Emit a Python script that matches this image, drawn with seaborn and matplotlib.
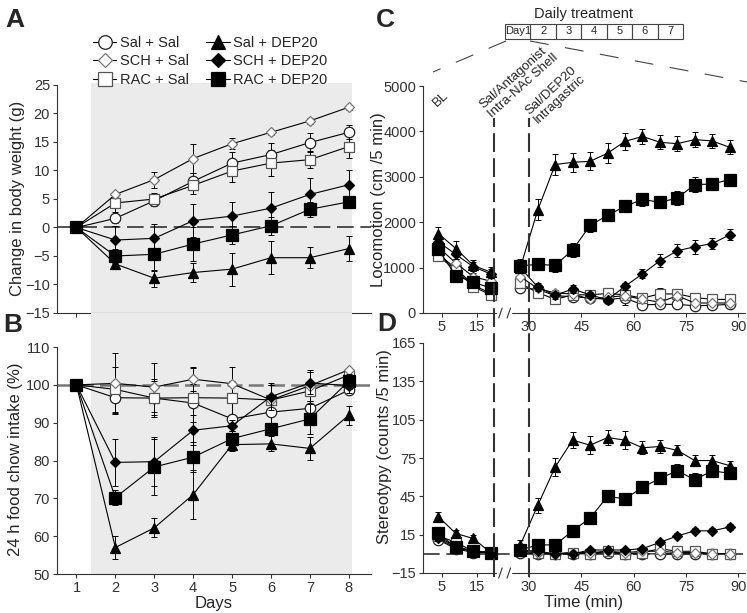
import matplotlib
matplotlib.use("Agg")
import matplotlib.pyplot as plt
import matplotlib.transforms as mtransforms
from matplotlib.lines import Line2D
from matplotlib.patches import Rectangle
import seaborn as sns

# groups / legend labels
groups = ["Sal + Sal", "SCH + Sal", "RAC + Sal", "Sal + DEP20", "SCH + DEP20", "RAC + DEP20"]

# A: change in body weight (g), days 1-8
days = [1, 2, 3, 4, 5, 6, 7, 8]
bw_mean = {
    "Sal + Sal":   [0, 1.6, 4.7, 8.1, 11.3, 12.8, 14.9, 16.7],
    "SCH + Sal":   [0, 5.8, 8.4, 12.1, 14.7, 16.7, 18.7, 21.1],
    "RAC + Sal":   [0, 4.3, 5.0, 7.4, 9.9, 11.3, 11.9, 14.2],
    "Sal + DEP20": [0, -6.4, -8.9, -7.9, -7.3, -5.3, -5.3, -3.7],
    "SCH + DEP20": [0, -2.2, -1.9, 1.2, 2.0, 3.4, 5.8, 7.5],
    "RAC + DEP20": [0, -5.0, -4.7, -2.9, -1.3, 0.3, 3.2, 4.5],
}
bw_sem = {
    "Sal + Sal":   [0, 0.8, 1.0, 1.5, 2.0, 2.0, 1.6, 1.2],
    "SCH + Sal":   [0, 0.5, 1.4, 2.6, 1.0, 0.4, 0.5, 0.4],
    "RAC + Sal":   [0, 1.5, 1.0, 1.5, 2.0, 2.3, 1.5, 2.0],
    "Sal + DEP20": [0, 0.6, 1.5, 1.6, 2.9, 2.9, 1.8, 2.2],
    "SCH + DEP20": [0, 2.5, 2.6, 2.9, 2.5, 2.8, 2.8, 2.5],
    "RAC + DEP20": [0, 1.3, 2.9, 2.9, 1.6, 1.6, 1.3, 1.0],
}

# B: 24 h food chow intake (%)
food_mean = {
    "Sal + Sal":   [100, 96.6, 96.5, 95.2, 91.0, 92.8, 93.8, 98.6],
    "SCH + Sal":   [100, 100.4, 99.4, 101.5, 100.3, 96.0, 99.8, 104.0],
    "RAC + Sal":   [100, 98.8, 96.5, 96.6, 96.5, 96.0, 98.4, 102.6],
    "Sal + DEP20": [100, 57.0, 62.2, 71.0, 84.2, 84.4, 83.2, 92.0],
    "SCH + DEP20": [100, 79.5, 79.7, 88.0, 89.2, 96.9, 100.5, 99.8],
    "RAC + DEP20": [100, 70.2, 78.3, 80.9, 85.8, 88.4, 91.0, 101.0],
}
food_sem = {
    "Sal + Sal":   [0, 4.0, 4.5, 5.0, 1.0, 3.0, 2.0, 1.0],
    "SCH + Sal":   [0, 8.0, 6.5, 3.0, 4.5, 4.0, 4.0, 0.5],
    "RAC + Sal":   [0, 6.0, 5.0, 8.0, 4.5, 4.0, 5.0, 1.0],
    "Sal + DEP20": [0, 3.0, 2.5, 6.5, 1.8, 2.0, 3.0, 2.5],
    "SCH + DEP20": [0, 6.3, 6.5, 4.0, 1.5, 3.5, 3.0, 2.0],
    "RAC + DEP20": [0, 2.0, 7.5, 4.0, 2.0, 1.5, 4.0, 2.0],
}

# C/D: time course (min); baseline bins and post-treatment bins
time_bl = [4, 9, 14, 19]
time_tx = [27.5, 32.5, 37.5, 42.5, 47.5, 52.5, 57.5, 62.5, 67.5, 72.5, 77.5, 82.5, 87.5]
time_ticks = [5, 15, 30, 45, 60, 75, 90]

loco_bl = {
    "Sal + Sal":   [1300, 980, 620, 430],
    "SCH + Sal":   [1450, 1100, 800, 700],
    "RAC + Sal":   [1250, 950, 580, 400],
    "Sal + DEP20": [1750, 1420, 1050, 900],
    "SCH + DEP20": [1570, 1290, 1020, 860],
    "RAC + DEP20": [1400, 820, 680, 550],
}
loco_tx = {
    "Sal + Sal":   [560, 520, 380, 360, 330, 300, 330, 180, 190, 190, 160, 170, 190],
    "SCH + Sal":   [800, 540, 440, 420, 300, 350, 380, 300, 240, 380, 220, 220, 220],
    "RAC + Sal":   [650, 450, 300, 400, 400, 430, 400, 330, 420, 420, 340, 300, 300],
    "Sal + DEP20": [1000, 2270, 3270, 3320, 3340, 3520, 3780, 3890, 3760, 3730, 3820, 3790, 3650],
    "SCH + DEP20": [1000, 570, 390, 530, 400, 290, 590, 860, 1150, 1370, 1460, 1530, 1720],
    "RAC + DEP20": [1040, 1070, 1050, 1390, 1930, 2150, 2350, 2500, 2440, 2530, 2830, 2840, 2940],
}
loco_bl_sem = {
    "Sal + Sal":   [100, 90, 80, 70],
    "SCH + Sal":   [110, 100, 90, 80],
    "RAC + Sal":   [100, 90, 80, 80],
    "Sal + DEP20": [150, 170, 120, 120],
    "SCH + DEP20": [120, 100, 100, 100],
    "RAC + DEP20": [120, 100, 100, 130],
}
loco_tx_sem = {
    "Sal + Sal":   [80, 70, 60, 60, 60, 60, 70, 50, 50, 50, 50, 50, 50],
    "SCH + Sal":   [100, 80, 70, 70, 60, 70, 200, 80, 70, 80, 60, 60, 60],
    "RAC + Sal":   [90, 70, 60, 70, 70, 80, 80, 70, 120, 100, 80, 70, 70],
    "Sal + DEP20": [100, 230, 230, 210, 200, 220, 190, 170, 150, 170, 170, 150, 150],
    "SCH + DEP20": [100, 80, 80, 80, 70, 70, 80, 100, 140, 140, 150, 130, 120],
    "RAC + DEP20": [150, 130, 150, 150, 140, 120, 120, 140, 110, 160, 160, 140, 80],
}

stereo_bl = {
    "Sal + Sal":   [11, 4, 1, 1],
    "SCH + Sal":   [13, 6, 2, 1],
    "RAC + Sal":   [14, 9, 2, 1],
    "Sal + DEP20": [29, 16, 12, 1],
    "SCH + DEP20": [12, 5, 2, 1],
    "RAC + DEP20": [16, 5, 2, 1],
}
stereo_tx = {
    "Sal + Sal":   [1, 0, 0, 0, 0, 1, 0, 0, 0, 0, 0, 0, 0],
    "SCH + Sal":   [2, 1, 0, 1, 1, 2, 1, 2, 2, 1, 1, 0, 0],
    "RAC + Sal":   [2, 1, 0, 1, 0, 2, 0, 1, 4, 2, 2, 0, 0],
    "Sal + DEP20": [7, 38, 68, 89, 85, 91, 89, 83, 84, 81, 73, 73, 69],
    "SCH + DEP20": [3, 2, 0, 0, 3, 3, 3, 4, 9, 14, 18, 18, 21],
    "RAC + DEP20": [3, 7, 7, 18, 28, 45, 43, 52, 59, 65, 58, 65, 63],
}
stereo_bl_sem = {
    "Sal + Sal":   [2, 1, 1, 1],
    "SCH + Sal":   [2, 1, 1, 1],
    "RAC + Sal":   [2, 2, 1, 1],
    "Sal + DEP20": [4, 3, 3, 2],
    "SCH + DEP20": [2, 1, 1, 1],
    "RAC + DEP20": [3, 2, 2, 1],
}
stereo_tx_sem = {
    "Sal + Sal":   [1, 1, 1, 1, 1, 1, 1, 1, 1, 1, 1, 1, 1],
    "SCH + Sal":   [1, 1, 1, 1, 1, 1, 1, 1, 1, 1, 1, 1, 1],
    "RAC + Sal":   [1, 1, 1, 1, 1, 1, 1, 1, 2, 1, 1, 1, 1],
    "Sal + DEP20": [4, 6, 7, 6, 7, 6, 7, 5, 5, 4, 4, 4, 4],
    "SCH + DEP20": [1, 1, 1, 1, 1, 1, 1, 1, 2, 2, 2, 2, 2],
    "RAC + DEP20": [2, 3, 3, 3, 3, 4, 3, 4, 4, 5, 5, 5, 3],
}

treatment_days = ["Day1", "2", "3", "4", "5", "6", "7"]

# marker styles per group
styles = {
    "Sal + Sal":   dict(marker="o", ms=7.5, fc="white", ec="#222222", z=3),
    "SCH + Sal":   dict(marker="D", ms=5.5, fc="white", ec="#777777", z=3.2),
    "RAC + Sal":   dict(marker="s", ms=7.5, fc="white", ec="#555555", z=3.1),
    "Sal + DEP20": dict(marker="^", ms=7.5, fc="black", ec="black", z=4),
    "SCH + DEP20": dict(marker="D", ms=5.5, fc="black", ec="black", z=4.1),
    "RAC + DEP20": dict(marker="s", ms=8.0, fc="black", ec="black", z=4.2),
}

sns.set_style("ticks")
plt.rcParams["font.family"] = ["Liberation Sans", "DejaVu Sans"]
plt.rcParams["axes.edgecolor"] = "#333333"
plt.rcParams["xtick.color"] = "#333333"
plt.rcParams["ytick.color"] = "#333333"
plt.rcParams["xtick.major.size"] = 3
plt.rcParams["ytick.major.size"] = 3
plt.rcParams["xtick.major.pad"] = 2
plt.rcParams["ytick.major.pad"] = 2

TICK_FS = 10.5
LAB_FS = 12
SHADE = "#ebebeb"

W, H = 747, 613
fig = plt.figure(figsize=(W / 100, H / 100), dpi=100)


def px_axes(left, top, right, bottom):
    return fig.add_axes([left / W, 1 - bottom / H, (right - left) / W, (bottom - top) / H])


def draw_group(ax, xs, ys, err, g):
    st = styles[g]
    sns.lineplot(x=xs, y=ys, ax=ax, color="black", lw=0.8, marker=st["marker"],
                 markersize=st["ms"], markerfacecolor=st["fc"], markeredgecolor=st["ec"],
                 markeredgewidth=0.9, zorder=st["z"], sort=False, errorbar=None)
    ax.errorbar(xs, ys, yerr=err, fmt="none", ecolor="black", elinewidth=0.7,
                capsize=2, capthick=0.7, zorder=st["z"] - 0.5)


def clean(ax):
    ax.spines[["top", "right"]].set_visible(False)
    ax.tick_params(labelsize=TICK_FS, direction="out")


# ---------- A: body weight ----------
axA = px_axes(57, 83, 371, 313)
axA.axvspan(1.38, 8.07, color=SHADE, lw=0, zorder=0)
axA.axhline(0, color="#333333", lw=1.2, dashes=(10, 4), zorder=1)
for g in groups:
    draw_group(axA, days, bw_mean[g], bw_sem[g], g)
axA.set_xlim(0.5, 8.57)
axA.set_ylim(-15, 25.35)
axA.set_yticks(range(-15, 30, 5))
axA.set_xticks(days)
axA.set_xticklabels([])
axA.spines["left"].set_bounds(-15, 25)
axA.set_ylabel("Change in body weight (g)", fontsize=LAB_FS)
axA.yaxis.set_label_coords((25 - 57) / 314, 0.5)
clean(axA)

# ---------- B: food intake ----------
axB = px_axes(57, 313, 371, 574)
axB.axvspan(1.38, 8.07, color=SHADE, lw=0, zorder=0)
axB.axhline(100, color="#777777", lw=1.8, dashes=(6, 2.5), zorder=1)
for g in groups:
    draw_group(axB, days, food_mean[g], food_sem[g], g)
axB.set_xlim(0.5, 8.57)
axB.set_ylim(50, 119)
axB.set_yticks(range(50, 111, 10))
axB.set_xticks(days)
axB.spines["left"].set_bounds(50, 110)
axB.set_xlabel("Days", fontsize=LAB_FS, labelpad=1)
axB.set_ylabel("24 h food chow intake (%)", fontsize=LAB_FS)
axB.yaxis.set_label_coords((23 - 57) / 314, 0.44)
axB.patch.set_alpha(0)
clean(axB)

# legend (top of A)
handles = [Line2D([], [], color="black", lw=0.8, marker=styles[g]["marker"],
                  markersize=styles[g]["ms"], markerfacecolor=styles[g]["fc"],
                  markeredgecolor=styles[g]["ec"], markeredgewidth=0.9) for g in groups]
fig.legend(handles, groups, ncol=2, loc="upper left", bbox_to_anchor=(93 / W, 1 - 36 / H),
           frameon=False, fontsize=10.5, markerscale=1.3, handlelength=1.6,
           handletextpad=0.25, columnspacing=1.2, labelspacing=0.3, borderpad=0,
           borderaxespad=0)


# ---------- C and D: time course ----------
def broken_xaxis(ax, slash_h):
    ax.spines["bottom"].set_visible(False)
    tr = ax.get_xaxis_transform()
    for x0, x1 in [(-0.4, 20.6), (25.2, 91.9)]:
        ax.plot([x0, x1], [0, 0], transform=tr, color="#333333", lw=0.8, clip_on=False)
    for xm in [21.8, 24.2]:
        ax.plot([xm - 0.5, xm + 0.5], [-slash_h, slash_h], transform=tr, color="#333333",
                lw=0.8, clip_on=False)
    ax.set_xticks(time_ticks)


axC = px_axes(423, 86, 745, 313)
for g in groups:
    draw_group(axC, time_bl, loco_bl[g], loco_bl_sem[g], g)
    draw_group(axC, time_tx, loco_tx[g], loco_tx_sem[g], g)
axC.set_xlim(-0.4, 91.9)
axC.set_ylim(0, 5000)
axC.set_yticks(range(0, 5001, 1000))
broken_xaxis(axC, 0.022)
axC.set_ylabel("Locomotion (cm /5 min)", fontsize=LAB_FS)
axC.yaxis.set_label_coords((386 - 423) / 322, 0.5)
axC.patch.set_alpha(0)
clean(axC)

axD = px_axes(423, 343, 745, 573)
axD.axhline(0, color="#333333", lw=1.2, dashes=(10, 4), zorder=1)
for g in groups:
    draw_group(axD, time_bl, stereo_bl[g], stereo_bl_sem[g], g)
    draw_group(axD, time_tx, stereo_tx[g], stereo_tx_sem[g], g)
axD.set_xlim(-0.4, 91.9)
axD.set_ylim(-15, 165)
axD.set_yticks(range(-15, 166, 30))
broken_xaxis(axD, 0.022)
axD.set_xlabel("Time (min)", fontsize=LAB_FS, labelpad=1)
axD.set_ylabel("Stereotypy (counts /5 min)", fontsize=LAB_FS)
axD.yaxis.set_label_coords((392 - 423) / 322, 0.55)
axD.patch.set_alpha(0)
clean(axD)

# vertical treatment markers spanning C and D
vtr = mtransforms.blended_transform_factory(axD.transData, fig.transFigure)
for xv in [20, 30]:
    fig.add_artist(Line2D([xv, xv], [1 - 577 / H, 1 - 118 / H], transform=vtr,
                          color="#333333", lw=1.5, dashes=(9, 3)))

# annotations above C
fig.text(439 / W, 1 - 109 / H, "BL", rotation=43, rotation_mode="anchor",
         ha="left", va="bottom", fontsize=9.5)
fig.text(494 / W, 1 - 120 / H, "Sal/Antagonist\nIntra-NAc Shell", rotation=42,
         rotation_mode="anchor", ha="left", va="bottom", fontsize=9.5, linespacing=1.05)
fig.text(540 / W, 1 - 126 / H, "Sal/DEP20\nIntragastric", rotation=43,
         rotation_mode="anchor", ha="left", va="bottom", fontsize=9.5, linespacing=1.05)

# daily treatment boxes
fig.text(583 / W, 1 - 14 / H, "Daily treatment", ha="center", va="center", fontsize=10.5)
bx0, bw, by0, by1 = 505, (683 - 505) / 7, 24, 39
for i, lab in enumerate(treatment_days):
    fig.add_artist(Rectangle(((bx0 + i * bw) / W, 1 - by1 / H), bw / W, (by1 - by0) / H,
                             transform=fig.transFigure, fill=False, ec="#444444", lw=0.8))
    fig.text((bx0 + (i + 0.5) * bw) / W, 1 - (by0 + by1) / 2 / H, lab, ha="center",
             va="center", fontsize=8)

# zoom lines from Day1 box
fig.add_artist(Line2D([506 / W, 433 / W], [1 - 41 / H, 1 - 72 / H], transform=fig.transFigure,
                      color="#444444", lw=0.8, dashes=(17, 15)))
fig.add_artist(Line2D([530 / W, 747 / W], [1 - 41 / H, 1 - 82 / H], transform=fig.transFigure,
                      color="#444444", lw=0.8, dashes=(17, 15)))

# panel letters
for lab, x, y in [("A", 5, 8), ("B", 3, 313), ("C", 376, 8), ("D", 377, 312)]:
    fig.text(x / W, 1 - y / H, lab, ha="left", va="top", fontsize=19, fontweight="bold")

fig.savefig("out.png", dpi=100)
